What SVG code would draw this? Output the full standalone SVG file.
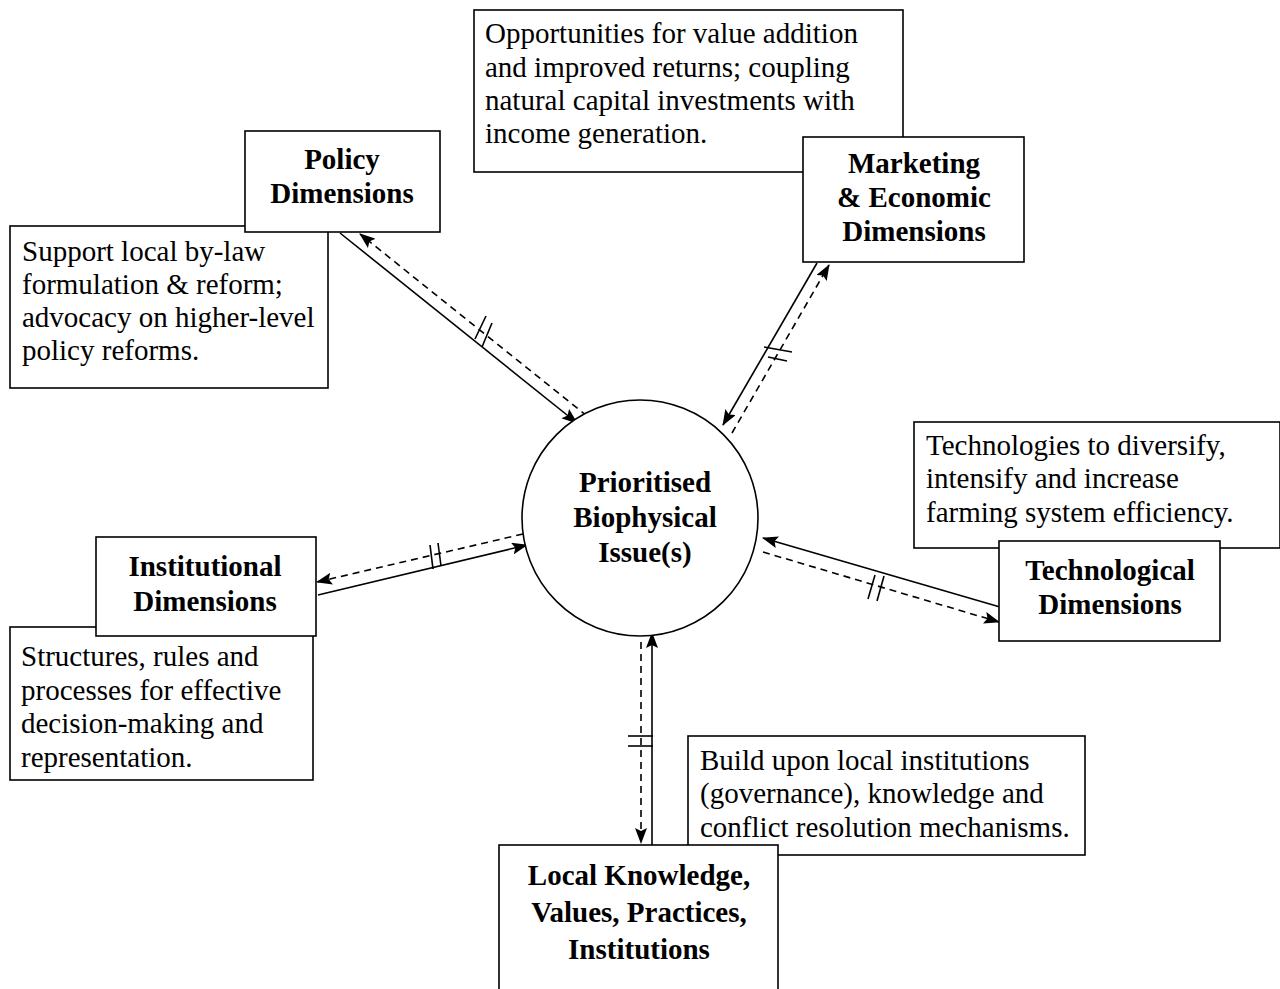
<svg xmlns="http://www.w3.org/2000/svg" width="1280" height="989" viewBox="0 0 1280 989">
<style>
.box{fill:#fff;stroke:#000;stroke-width:1.6}
.t{font-family:"Liberation Serif","Times New Roman",serif;font-size:29px;fill:#000}
.b{font-family:"Liberation Serif","Times New Roman",serif;font-size:29px;font-weight:bold;fill:#000;text-anchor:middle}
.s{stroke:#000;stroke-width:1.6;fill:none}
.d{stroke:#000;stroke-width:1.6;fill:none;stroke-dasharray:7 5}
.k{stroke:#000;stroke-width:1.6}
</style>
<defs>
<marker id="ah" viewBox="0 0 16 12" refX="15" refY="6" markerWidth="16" markerHeight="12" markerUnits="userSpaceOnUse" orient="auto">
<path d="M0,0 L16,6 L0,12 L3,6 z" fill="#000"/>
</marker>
</defs>
<rect width="1280" height="989" fill="#fff"/>
<g id="connectors">
<line class="s" x1="340" y1="233" x2="577" y2="423" marker-end="url(#ah)"/>
<line class="d" x1="587" y1="416" x2="360" y2="234" marker-end="url(#ah)"/>
<line class="k" x1="475" y1="339" x2="486" y2="316"/>
<line class="k" x1="482" y1="347" x2="492" y2="323"/>
<line class="s" x1="817" y1="263" x2="723" y2="425" marker-end="url(#ah)"/>
<line class="d" x1="732" y1="433" x2="829" y2="265" marker-end="url(#ah)"/>
<line class="k" x1="764" y1="347" x2="792" y2="352"/>
<line class="k" x1="768" y1="357" x2="787" y2="361"/>
<line class="s" x1="318" y1="595" x2="527" y2="545" marker-end="url(#ah)"/>
<line class="d" x1="523" y1="534" x2="317" y2="582" marker-end="url(#ah)"/>
<line class="k" x1="430" y1="545" x2="433" y2="569"/>
<line class="k" x1="438" y1="543" x2="441" y2="566"/>
<line class="s" x1="1000" y1="607" x2="763" y2="538" marker-end="url(#ah)"/>
<line class="d" x1="763" y1="552" x2="999" y2="622" marker-end="url(#ah)"/>
<line class="k" x1="868" y1="599" x2="875" y2="575"/>
<line class="k" x1="877" y1="601" x2="884" y2="576"/>
<line class="s" x1="652" y1="847" x2="652" y2="633" marker-end="url(#ah)"/>
<line class="d" x1="641" y1="642" x2="641" y2="843" marker-end="url(#ah)"/>
<line class="k" x1="628" y1="736" x2="653" y2="736"/>
<line class="k" x1="628" y1="746" x2="653" y2="746"/>
</g>
<g id="opportunities">
<rect class="box" x="474" y="10" width="429" height="162"/>
<text class="t" x="485" y="43">Opportunities for value addition</text>
<text class="t" x="485" y="77">and improved returns; coupling</text>
<text class="t" x="485" y="110">natural capital investments with</text>
<text class="t" x="485" y="143">income generation.</text>
</g>
<g id="marketing">
<rect class="box" x="803" y="137" width="221" height="125"/>
<text class="b" x="914" y="173">Marketing</text>
<text class="b" x="914" y="207">&amp; Economic</text>
<text class="b" x="914" y="241">Dimensions</text>
</g>
<g id="support">
<rect class="box" x="10" y="226" width="318" height="162"/>
<text class="t" x="22" y="261">Support local by-law</text>
<text class="t" x="22" y="294">formulation &amp; reform;</text>
<text class="t" x="22" y="327">advocacy on higher-level</text>
<text class="t" x="22" y="360">policy reforms.</text>
</g>
<g id="policy">
<rect class="box" x="245" y="131" width="195" height="101"/>
<text class="b" x="342" y="169">Policy</text>
<text class="b" x="342" y="203">Dimensions</text>
</g>
<g id="center">
<circle cx="640" cy="518" r="118" fill="#fff" stroke="#000" stroke-width="1.6"/>
<text class="b" x="645" y="492">Prioritised</text>
<text class="b" x="645" y="527">Biophysical</text>
<text class="b" x="645" y="562">Issue(s)</text>
</g>
<g id="technologies">
<rect class="box" x="914" y="422" width="366" height="126"/>
<text class="t" x="926" y="455">Technologies to diversify,</text>
<text class="t" x="926" y="488">intensify and increase</text>
<text class="t" x="926" y="522">farming system efficiency.</text>
</g>
<g id="technological">
<rect class="box" x="999" y="541" width="221" height="100"/>
<text class="b" x="1110" y="580">Technological</text>
<text class="b" x="1110" y="614">Dimensions</text>
</g>
<g id="structures">
<rect class="box" x="10" y="627" width="303" height="153"/>
<text class="t" x="21" y="666">Structures, rules and</text>
<text class="t" x="21" y="700">processes for effective</text>
<text class="t" x="21" y="733">decision-making and</text>
<text class="t" x="21" y="767">representation.</text>
</g>
<g id="institutional">
<rect class="box" x="96" y="537" width="220" height="99"/>
<text class="b" x="205" y="576">Institutional</text>
<text class="b" x="205" y="611">Dimensions</text>
</g>
<g id="build">
<rect class="box" x="688" y="736" width="397" height="119"/>
<text class="t" x="700" y="770">Build upon local institutions</text>
<text class="t" x="700" y="803">(governance), knowledge and</text>
<text class="t" x="700" y="837">conflict resolution mechanisms.</text>
</g>
<g id="local">
<rect class="box" x="499" y="845" width="279" height="150"/>
<text class="b" x="639" y="885">Local Knowledge,</text>
<text class="b" x="639" y="922">Values, Practices,</text>
<text class="b" x="639" y="959">Institutions</text>
</g>
</svg>
